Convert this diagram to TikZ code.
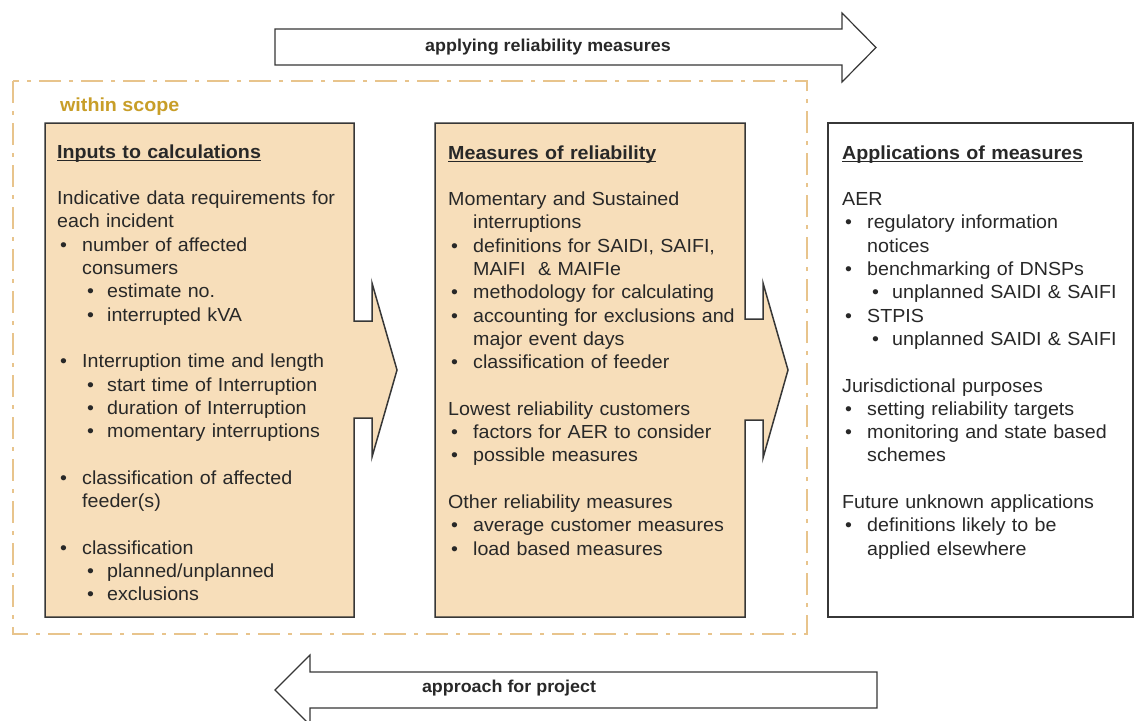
\documentclass[tikz,border=0pt]{standalone}
\usepackage{fontspec}
\setmainfont{Liberation Sans}[FakeStretch=1.04]
\newsavebox\ULbox
\newcommand\ULtitle[1]{\sbox\ULbox{\textbf{#1}}\rlap{\rule[-3.4pt]{\wd\ULbox}{1.3pt}}\usebox\ULbox}
\definecolor{boxfill}{RGB}{247,222,186}
\definecolor{scopeline}{RGB}{232,196,140}
\definecolor{scopetext}{RGB}{200,158,40}
\definecolor{edgecol}{RGB}{55,55,55}
\definecolor{txtcol}{RGB}{40,40,40}
\newcommand\Ba[1]{\makebox[25pt][l]{\hspace{3pt}\textbullet}#1}
\newcommand\Ca[1]{\hspace*{25pt}#1}
\newcommand\Bb[1]{\hspace*{30pt}\makebox[20pt][l]{\textbullet}#1}
\begin{document}
\begin{tikzpicture}[x=1pt,y=-1pt,
  boxtext/.style={anchor=base west, inner sep=0pt, text width=300pt, align=left,
    font=\fontsize{18.9}{23.3}\selectfont, text=txtcol},
  bigarrow/.style={draw=edgecol, line width=1.2pt, fill=white, line join=miter},
  calcbox/.style={draw=edgecol, line width=1.5pt, fill=boxfill, line join=miter},
  arrowlabel/.style={inner sep=0pt, font=\fontsize{17.2}{20}\selectfont\bfseries, text=txtcol},
  scope frame/.style={draw=scopeline, line width=2.4pt, dash pattern=on 22pt off 8pt on 4pt off 8pt}]
\useasboundingbox (0,0) rectangle (1134,720);
\clip (0,0) rectangle (1134,720);
\fill[white] (0,0) rectangle (1134,720);
% top arrow
\draw[bigarrow] (275,29) -- (842,29) -- (842,13) -- (876,47.5) -- (842,82) -- (842,65) -- (275,65) -- cycle;
\node[arrowlabel] (toplab) at (548,47) {applying reliability measures};
% scope frame
\draw[scope frame] (13,81) rectangle (807,634);
\node[anchor=base west, inner sep=0pt, font=\fontsize{18.9}{23}\selectfont\bfseries, text=scopetext] (scope) at (60,111) {within scope};
% left box with arrow
\draw[calcbox] (45,123) -- (354,123) -- (354,321) -- (372,321) -- (372,283) -- (397,370) -- (372,457) -- (372,418) -- (354,418) -- (354,617) -- (45,617) -- cycle;
% middle box with arrow
\draw[calcbox] (435,123) -- (745,123) -- (745,319) -- (763,319) -- (763,283) -- (788,370) -- (763,458) -- (763,420) -- (745,420) -- (745,617) -- (435,617) -- cycle;
% right box
\draw[draw=edgecol, line width=1.5pt, fill=white] (828,123) rectangle (1133,617);
% bottom arrow
\draw[bigarrow] (877,672) -- (310,672) -- (310,655) -- (275,690) -- (310,725) -- (310,708) -- (877,708) -- cycle;
\node[arrowlabel] (botlab) at (509,688) {approach for project};
% texts
\node[boxtext] (inputs) at (57,158) {\ULtitle{Inputs to calculations}\\[23.3pt]
Indicative data requirements for\\
each incident\\
\Ba{number of affected}\\
\Ca{consumers}\\
\Bb{estimate no.}\\
\Bb{interrupted kVA}\\[23.3pt]
\Ba{Interruption time and length}\\
\Bb{start time of Interruption}\\
\Bb{duration of Interruption}\\
\Bb{momentary interruptions}\\[23.3pt]
\Ba{classification of affected}\\
\Ca{feeder(s)}\\[23.3pt]
\Ba{classification}\\
\Bb{planned/unplanned}\\
\Bb{exclusions}};
\node[boxtext] (measures) at (448,159) {\ULtitle{Measures of reliability}\\[23.3pt]
Momentary and Sustained\\
\Ca{interruptions}\\
\Ba{definitions for SAIDI, SAIFI,}\\
\Ca{MAIFI\ \ \& MAIFIe}\\
\Ba{methodology for calculating}\\
\Ba{accounting for exclusions and}\\
\Ca{major event days}\\
\Ba{classification of feeder}\\[23.3pt]
Lowest reliability customers\\
\Ba{factors for AER to consider}\\
\Ba{possible measures}\\[23.3pt]
Other reliability measures\\
\Ba{average customer measures}\\
\Ba{load based measures}};
\node[boxtext] (apps) at (842,159) {\ULtitle{Applications of measures}\\[23.3pt]
AER\\
\Ba{regulatory information}\\
\Ca{notices}\\
\Ba{benchmarking of DNSPs}\\
\Bb{unplanned SAIDI \& SAIFI}\\
\Ba{STPIS}\\
\Bb{unplanned SAIDI \& SAIFI}\\[23.3pt]
Jurisdictional purposes\\
\Ba{setting reliability targets}\\
\Ba{monitoring and state based}\\
\Ca{schemes}\\[23.3pt]
Future unknown applications\\
\Ba{definitions likely to be}\\
\Ca{applied elsewhere}};
\end{tikzpicture}
\end{document}
